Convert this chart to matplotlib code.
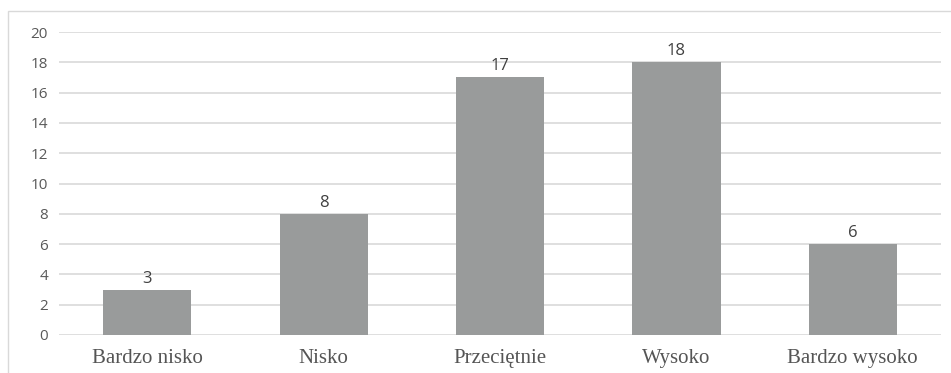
import matplotlib.pyplot as plt
from matplotlib.patches import Rectangle

# dane
categories = ['Bardzo nisko', 'Nisko', 'Przeciętnie', 'Wysoko', 'Bardzo wysoko']
values = [3, 8, 17, 18, 6]
y_ticks = list(range(0, 21, 2))

W, H = 951, 373
fig = plt.figure(figsize=(W / 100, H / 100), dpi=100)
ax = fig.add_axes([59 / W, 1 - 335 / H, (941 - 59) / W, (335 - 32) / H])

# ramka wykresu
fig.patches.append(Rectangle((8 / W, -0.01), 1.0, 1 - 11 / H + 0.01,
                             transform=fig.transFigure, fill=False,
                             edgecolor='#d9d9d9', linewidth=1))

x = range(len(categories))
bars = ax.bar(x, values, width=0.5, color='#999b9b', zorder=3)

for rect, v in zip(bars, values):
    ax.text(rect.get_x() + rect.get_width() / 2, v + 0.2, str(v),
            ha='center', va='bottom', fontsize=12, color='#404040',
            family='Open Sans')

ax.set_xlim(-0.5, len(categories) - 0.5)
ax.set_ylim(0, 20)
ax.set_yticks(y_ticks)
ax.set_yticklabels([str(t) for t in y_ticks], family='Open Sans',
                   fontsize=11, color='#595959')
ax.set_xticks(list(x))
ax.set_xticklabels(categories, family='Liberation Serif', fontsize=15,
                   color='#555555')
ax.tick_params(axis='both', length=0)
ax.tick_params(axis='y', pad=8)
ax.tick_params(axis='x', pad=10)
ax.grid(axis='y', color='#d9d9d9', linewidth=1.2, zorder=0)
for s in ax.spines.values():
    s.set_visible(False)

fig.savefig('out.png', dpi=100)
